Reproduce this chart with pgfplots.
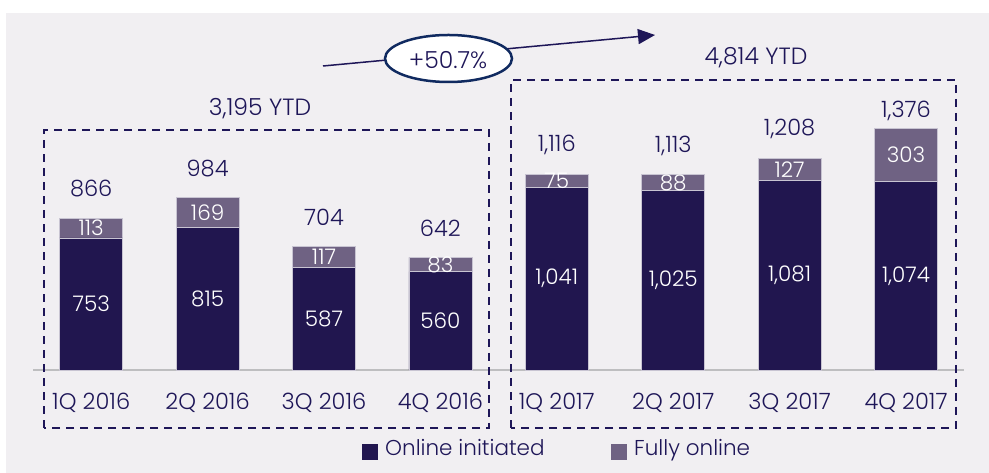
\documentclass[border=0pt]{standalone}
\usepackage{pgfplots}
\pgfplotsset{compat=1.18}
\usepackage{pgfplotstable}
\usetikzlibrary{arrows.meta}
\usepackage{fontspec}
\setmainfont{Poppins Light}
\definecolor{bg}{RGB}{241,239,242}
\definecolor{navy}{RGB}{33,22,79}
\definecolor{lav}{RGB}{111,98,131}
\definecolor{txt}{RGB}{30,22,88}
\definecolor{edge}{RGB}{200,196,210}
\definecolor{ell}{RGB}{16,42,96}
\definecolor{axgray}{RGB}{190,190,192}
\newcommand\fsz{\fontsize{21.5}{25}\selectfont}
\newcommand\fszt{\fontsize{22.5}{26}\selectfont}
\newcommand\fszb{\fontsize{23.5}{27}\selectfont}

\pgfplotstableread{
x on full tot onlbl fulllbl totlbl toty
0 753 113 866 753 113 866 1034
1 815 169 984 815 169 984 1152
2 587 117 704 587 117 704 872
3 560 83 642 560 83 642 810
4 1041 75 1116 1,041 75 1,116 1284
5 1025 88 1113 1,025 88 1,113 1281
6 1081 127 1208 1,081 127 1,208 1376
7 1074 303 1376 1,074 303 1,376 1477
}\data

\pgfplotsset{common/.style={
  at={(33pt,103pt)}, anchor=south west,
  x=116.4pt, y=0.1753pt,
  xmin=-0.5, xmax=7.5, ymin=0, ymax=2000, clip=false}}

\begin{document}
\begin{tikzpicture}
\fill[white] (0,0) rectangle (989pt,473pt);
\fill[bg] (6pt,0) rectangle (989pt,460pt);
\begin{axis}[common,
  ybar stacked, bar width=63pt,
  axis x line*=bottom, axis y line=none,
  x axis line style={draw=axgray, line width=1.5pt, -},
  xtick={0,...,7},
  xticklabels={1Q 2016,2Q 2016,3Q 2016,4Q 2016,1Q 2017,2Q 2017,3Q 2017,4Q 2017},
  major tick length=0pt, ytick=\empty,
  xticklabel style={anchor=base, yshift=-40pt, text=txt, font=\fszt},
]
\addplot[fill=navy, draw=edge, line width=0.8pt] table[x=x, y=on]{\data};
\addplot[fill=lav, draw=edge, line width=0.8pt] table[x=x, y=full]{\data};
\end{axis}
\begin{axis}[common, hide axis]
\addplot[draw=none, mark=none, nodes near coords, point meta=explicit symbolic,
  nodes near coords style={anchor=center, text=white, font=\fsz}]
  table[x=x, y expr=\thisrow{on}/2, meta=onlbl]{\data};
\addplot[draw=none, mark=none, nodes near coords, point meta=explicit symbolic,
  nodes near coords style={anchor=center, text=white, font=\fsz}]
  table[x=x, y expr=\thisrow{on}+\thisrow{full}/2, meta=fulllbl]{\data};
\addplot[draw=none, mark=none, nodes near coords, point meta=explicit symbolic,
  nodes near coords style={anchor=center, text=txt, font=\fszt}]
  table[x=x, y=toty, meta=totlbl]{\data};
\end{axis}
% dashed boxes
\draw[txt, line width=2pt, dash pattern=on 8pt off 6pt] (44pt,45pt) rectangle (489pt,343pt);
\draw[txt, line width=2pt, dash pattern=on 8pt off 6pt] (511pt,45pt) rectangle (956pt,393pt);
\node[text=txt, font=\fszb] at (260pt,364pt) {3,195 YTD};
\node[text=txt, font=\fszb] at (756pt,415pt) {4,814 YTD};
% growth arrow
\draw[txt, line width=1.5pt, -{Triangle[length=17pt,width=15pt]}] (323pt,407pt) -- (655pt,438pt);
\draw[ell, line width=2.5pt, fill=white] (448.5pt,414.5pt) ellipse [x radius=63.5pt, y radius=23.5pt];
\node[text=txt, font=\fszb] at (448pt,413pt) {+50.7\%};
% legend
\fill[navy] (362pt,13pt) rectangle (378pt,29pt);
\node[anchor=base west, inner sep=0pt, text=txt, font=\fsz] at (385pt,17pt) {Online initiated};
\fill[lav] (611pt,13pt) rectangle (627pt,29pt);
\node[anchor=base west, inner sep=0pt, text=txt, font=\fsz] at (634pt,17pt) {Fully online};
\end{tikzpicture}
\end{document}
